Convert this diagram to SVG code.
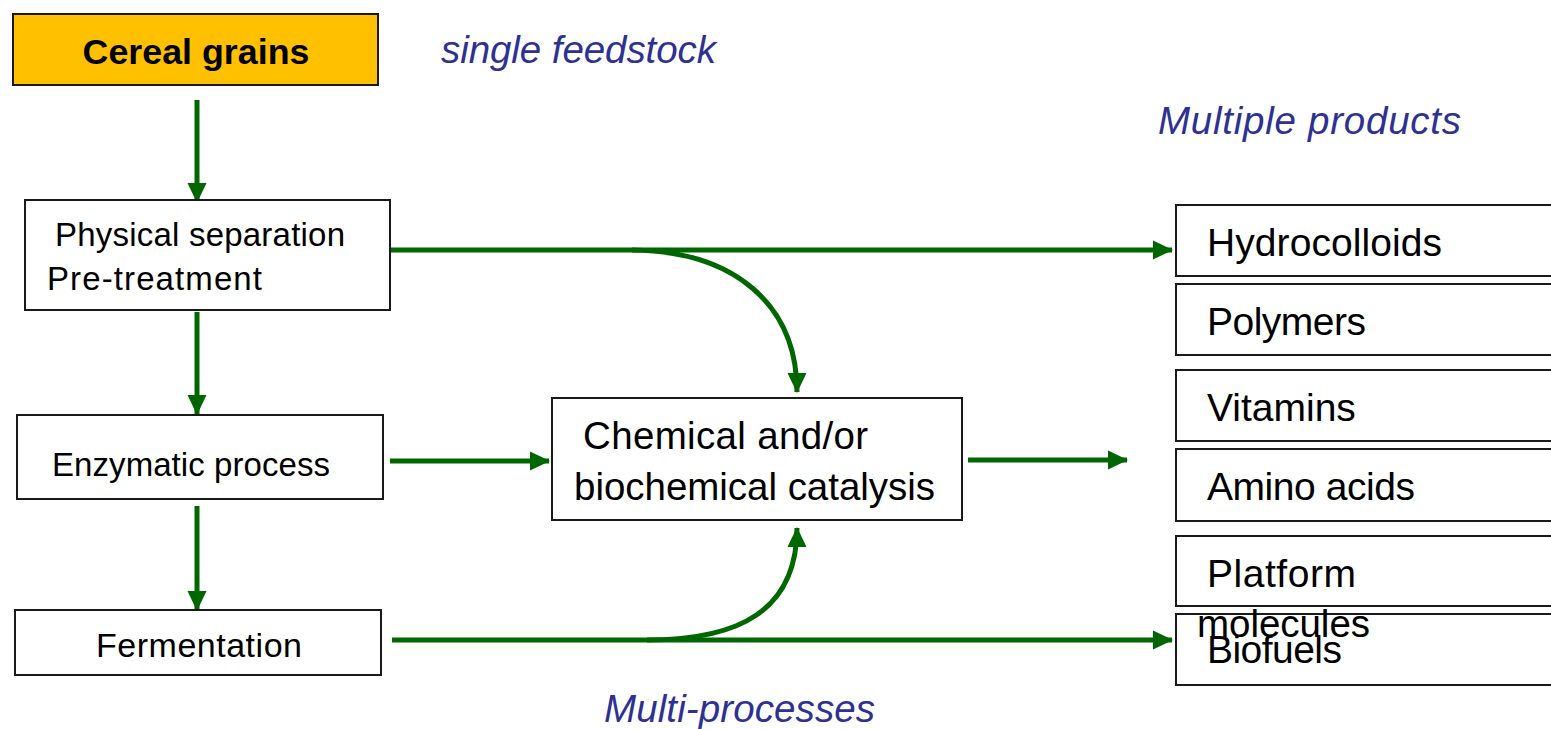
<svg xmlns="http://www.w3.org/2000/svg" width="1551" height="729" viewBox="0 0 1551 729">
  <style>
    .box { fill: #ffffff; stroke: #1a1a1a; stroke-width: 2; }
    .feed { fill: #ffc000; stroke: #1a1a1a; stroke-width: 2; }
    .t { font-family: "Liberation Sans", Arial, sans-serif; fill: #000000; }
    .lab { font-family: "Liberation Sans", Arial, sans-serif; font-style: italic; fill: #2e3192; font-size: 38.5px; }
    .flow { fill: none; stroke: #006600; stroke-width: 5; marker-end: url(#head); }
  </style>
  <defs>
    <marker id="head" viewBox="0 0 20 20" refX="19" refY="10" markerWidth="20" markerHeight="20" markerUnits="userSpaceOnUse" orient="auto">
      <path d="M0,0.5 L20,10 L0,19.5 Z" fill="#006600"/>
    </marker>
  </defs>

  <rect width="1551" height="729" fill="#ffffff"/>

  <!-- section labels -->
  <text class="lab" x="441" y="63" textLength="275">single feedstock</text>
  <text class="lab" x="1158" y="134" textLength="303">Multiple products</text>
  <text class="lab" x="604" y="722" textLength="271">Multi-processes</text>

  <!-- connectors -->
  <g id="connectors">
    <path class="flow" d="M197,100 L197,202"/>
    <path class="flow" d="M197,312 L197,414"/>
    <path class="flow" d="M197,506 L197,610"/>
    <path class="flow" d="M391,250 L1172,250"/>
    <path class="flow" d="M632,250 C735,251 797,305 797,392"/>
    <path class="flow" d="M390,461 L549,461"/>
    <path class="flow" d="M968,460 L1127,460"/>
    <path class="flow" d="M392,640 L1172,640"/>
    <path class="flow" d="M647,640 C740,640 797,610 797,528"/>
  </g>

  <!-- process column -->
  <g id="cereal-grains">
    <rect class="feed" x="13" y="14" width="365" height="71"/>
    <text class="t" x="196" y="64" font-size="35.8" font-weight="bold" text-anchor="middle">Cereal grains</text>
  </g>
  <g id="physical-separation">
    <rect class="box" x="25" y="200" width="365" height="110"/>
    <text class="t" x="55" y="246" font-size="33" textLength="290">Physical separation</text>
    <text class="t" x="47" y="290" font-size="33" textLength="215">Pre-treatment</text>
  </g>
  <g id="enzymatic-process">
    <rect class="box" x="17" y="415" width="366" height="84"/>
    <text class="t" x="52" y="476" font-size="33" textLength="278">Enzymatic process</text>
  </g>
  <g id="fermentation">
    <rect class="box" x="15" y="610" width="366" height="65"/>
    <text class="t" x="96" y="657" font-size="34" textLength="206">Fermentation</text>
  </g>
  <g id="catalysis">
    <rect class="box" x="552" y="398" width="410" height="122"/>
    <text class="t" x="583" y="449" font-size="38.5" textLength="285">Chemical and/or</text>
    <text class="t" x="574" y="500" font-size="38.5" textLength="361">biochemical catalysis</text>
  </g>

  <!-- product column -->
  <g id="hydrocolloids">
    <rect class="box" x="1176" y="205" width="390" height="71"/>
    <text class="t" x="1207" y="256" font-size="39" textLength="235">Hydrocolloids</text>
  </g>
  <g id="polymers">
    <rect class="box" x="1176" y="284" width="390" height="71"/>
    <text class="t" x="1207" y="335" font-size="39" textLength="159">Polymers</text>
  </g>
  <g id="vitamins">
    <rect class="box" x="1176" y="370" width="390" height="71"/>
    <text class="t" x="1207" y="421" font-size="39">Vitamins</text>
  </g>
  <g id="amino-acids">
    <rect class="box" x="1176" y="449" width="390" height="72"/>
    <text class="t" x="1207" y="500" font-size="39" textLength="208">Amino acids</text>
  </g>
  <g id="platform-molecules">
    <rect class="box" x="1176" y="536" width="390" height="70"/>
    <text class="t" x="1207" y="587" font-size="39" textLength="149">Platform</text>
  </g>
  <g id="biofuels">
    <rect class="box" x="1176" y="614" width="390" height="71"/>
    <text class="t" x="1207" y="663" font-size="39" textLength="135">Biofuels</text>
  </g>
  <!-- second line of the platform label runs over the next box -->
  <text class="t" x="1197" y="637" font-size="38.5" textLength="173">molecules</text>
</svg>
